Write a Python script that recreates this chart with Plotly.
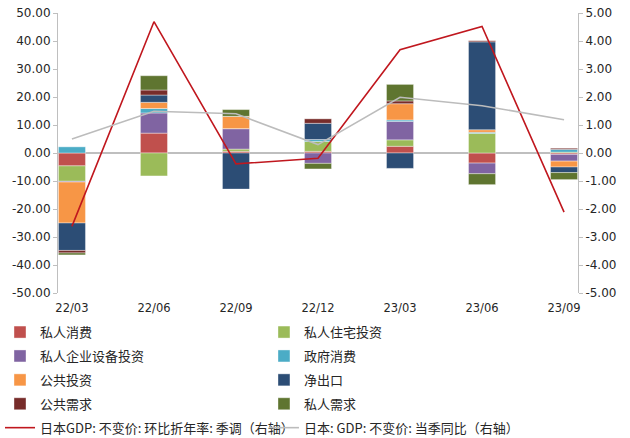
import plotly.graph_objects as go

categories = ['22/03', '22/06', '22/09', '22/12', '23/03', '23/06', '23/09']

private_consumption = [-4.6, 7.1, 0.6, 0.6, 2.4, -3.6, -0.5]
private_housing = [-5.5, -8.2, 0.8, 3.5, 2.3, 7.0, 0.3]
private_equipment = [-0.3, 7.2, 7.3, -3.7, 6.6, -3.8, -2.4]
government_consumption = [2.2, 1.6, 0.0, 0.7, 0.5, 0.4, 1.0]
public_investment = [-14.6, 2.2, 4.4, 0.0, 5.8, 0.9, -2.1]
net_exports = [-9.8, 2.6, -12.9, 5.8, -5.5, 31.4, -2.0]
public_demand = [-0.9, 1.8, 0.0, 1.6, 1.0, 0.4, 0.4]
private_demand = [-0.7, 5.1, 2.4, -2.0, 5.9, -3.9, -2.5]

gdp_qoq_annualized = [-2.62, 4.69, -0.39, -0.19, 3.69, 4.52, -2.11]
gdp_yoy = [0.50, 1.49, 1.40, 0.30, 1.99, 1.69, 1.19]

bar_names = ['私人消费', '私人住宅投资', '私人企业设备投资', '政府消费',
             '公共投资', '净出口', '公共需求', '私人需求']
bar_series = [private_consumption, private_housing, private_equipment,
              government_consumption, public_investment, net_exports,
              public_demand, private_demand]
bar_colors = ['#C0504D', '#9BBB59', '#8064A2', '#4BACC6',
              '#F79646', '#2C4D75', '#772C2A', '#5F7530']
line_names = ['日本GDP: 不变价: 环比折年率: 季调（右轴）',
              '日本: GDP: 不变价: 当季同比（右轴）']

left_ticks = [50, 40, 30, 20, 10, 0, -10, -20, -30, -40, -50]
left_ticktext = ['50.00', '40.00', '30.00', '20.00', '10.00', '0.00',
                 '-10.00', '-20.00', '-30.00', '-40.00', '-50.00']
right_ticks = [5, 4, 3, 2, 1, 0, -1, -2, -3, -4, -5]
right_ticktext = ['5.00', '4.00', '3.00', '2.00', '1.00', '0.00',
                  '-1.00', '-2.00', '-3.00', '-4.00', '-5.00']

FONT = '"Noto Sans CJK SC", "Microsoft YaHei", sans-serif'
NUM_FONT = '"DejaVu Sans", "Noto Sans CJK SC", sans-serif'
AXIS_COLOR = '#BFBFBF'
TEXT_COLOR = '#262626'

fig = go.Figure()
for i, (name, vals, col) in enumerate(zip(bar_names, bar_series, bar_colors)):
    fig.add_trace(go.Bar(
        x=categories, y=vals, name=name, width=0.33,
        legend='legend' if i % 2 == 0 else 'legend2',
        legendgroup='g%d' % i,
        marker=dict(color=col, line=dict(color='rgba(255,255,255,0.55)', width=0.7)),
    ))

fig.add_trace(go.Scatter(
    x=categories, y=gdp_qoq_annualized, name=line_names[0], yaxis='y2',
    legend='legend', legendgroup='l0',
    mode='lines', line=dict(color='#C0171E', width=1.6),
))
fig.add_trace(go.Scatter(
    x=categories, y=gdp_yoy, name=line_names[1], yaxis='y2',
    legend='legend2', legendgroup='l1',
    mode='lines', line=dict(color='#BCBCBC', width=1.6),
))

legend_common = dict(
    orientation='v', xref='container', yref='container',
    yanchor='top', xanchor='left', y=0.276,
    font=dict(size=13, family=FONT, color=TEXT_COLOR),
    traceorder='grouped', tracegroupgap=4,
    bgcolor='rgba(0,0,0,0)',
)

fig.update_layout(
    width=630, height=438,
    barmode='relative',
    paper_bgcolor='white', plot_bgcolor='white',
    font=dict(family=FONT, size=13, color=TEXT_COLOR),
    margin=dict(l=58, r=52, t=13, b=145, autoexpand=False),
    xaxis=dict(
        type='category', range=[-0.17, 6.17],
        showgrid=False, zeroline=False, showline=False, ticks='',
        tickfont=dict(size=11.5, family=NUM_FONT),
        ticklabelstandoff=6,
    ),
    yaxis=dict(
        range=[-50, 50], tickvals=left_ticks, ticktext=left_ticktext,
        showgrid=False, zeroline=True, zerolinecolor=AXIS_COLOR, zerolinewidth=1.5,
        showline=True, linecolor=AXIS_COLOR, linewidth=1,
        ticks='outside', ticklen=4, tickcolor=AXIS_COLOR,
        tickfont=dict(size=12, family=NUM_FONT),
    ),
    yaxis2=dict(
        range=[-5, 5], tickvals=right_ticks, ticktext=right_ticktext,
        overlaying='y', side='right',
        showgrid=False, zeroline=False,
        showline=True, linecolor=AXIS_COLOR, linewidth=1,
        ticks='outside', ticklen=4, tickcolor=AXIS_COLOR,
        tickfont=dict(size=12, family=NUM_FONT),
    ),
    legend=dict(legend_common, x=0.0),
    legend2=dict(legend_common, x=0.419),
    showlegend=True,
)

fig.write_html(
    'out.html',
    config={'displayModeBar': False},
    post_script="document.body.style.margin='0';document.body.style.overflow='hidden';",
)
